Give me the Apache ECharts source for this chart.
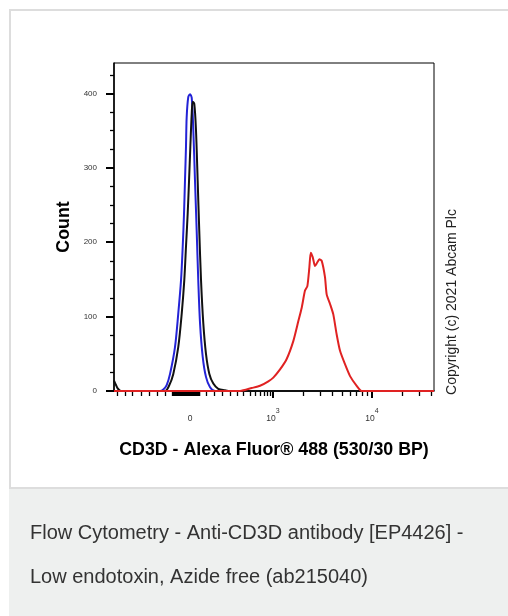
<!DOCTYPE html>
<html>
<head>
<meta charset="utf-8">
<script src="https://cdn.jsdelivr.net/npm/echarts@6/dist/echarts.min.js"></script>
<style>
html,body{margin:0;padding:0;background:#fff;}
#chart{width:508px;height:616px;}
</style>
</head>
<body>
<div id="chart"></div>
<script>
// x values are positions on the logicle display scale (in decades: 3 = 10^3, 4 = 10^4)
const X_MIN = 1.394;
const X_MAX = 4.626;

// Isotype control (blue)
const blueX = [1.394, 1.859, 1.892, 1.926, 1.960, 2.010, 2.043, 2.071, 2.088, 2.101, 2.111, 2.121, 2.128, 2.144, 2.162, 2.179, 2.195, 2.212, 2.229, 2.245, 2.263, 2.290, 2.323, 2.364, 2.414, 4.626];
const blueCount = [0, 0, 2, 8, 23, 59, 104, 149, 194, 238, 283, 328, 368, 395, 399, 394, 351, 283, 216, 149, 91, 46, 19, 5, 0, 0];

// Unlabelled control (black)
const blackX = [1.394, 1.414, 1.434, 1.465, 1.909, 1.950, 1.993, 2.043, 2.078, 2.104, 2.121, 2.138, 2.152, 2.165, 2.179, 2.189, 2.205, 2.222, 2.239, 2.255, 2.273, 2.296, 2.323, 2.357, 2.397, 2.447, 2.515, 2.566, 4.626];
const blackCount = [14, 8, 3, 0, 0, 7, 23, 59, 104, 149, 194, 238, 283, 328, 373, 389, 386, 351, 283, 216, 149, 91, 50, 23, 10, 3, 1, 0, 0];

// Anti-CD3D (red)
const redX = [1.394, 2.667, 2.785, 2.869, 2.953, 3.003, 3.071, 3.138, 3.205, 3.256, 3.290, 3.323, 3.347, 3.367, 3.381, 3.401, 3.424, 3.448, 3.468, 3.492, 3.525, 3.542, 3.576, 3.609, 3.643, 3.677, 3.727, 3.778, 3.845, 3.896, 4.626];
const redCount = [0, 0, 4, 7, 13, 18, 29, 43, 67, 94, 112, 135, 141, 166, 186, 180, 168, 173, 177, 175, 153, 130, 117, 103, 76, 54, 36, 20, 7, 0, 0];

// Axis ticks and labels
const xLabelPos = [2.162, 3, 4];
const xLabelText = ['0', '10', '10'];
const xLabelExp = ['', '3', '4'];
const xMajorTicks = [3, 4];
const xMinorTicks = [1.428, 1.505, 1.583, 1.667, 1.747, 1.828, 1.909,
  1.98, 1.99, 2.00, 2.01, 2.02, 2.03, 2.04, 2.05, 2.06, 2.07, 2.08, 2.09, 2.10, 2.11, 2.12, 2.13, 2.14, 2.15, 2.16, 2.17, 2.18, 2.19, 2.20, 2.21, 2.22, 2.23, 2.24, 2.25, 2.26,
  2.330, 2.407, 2.488, 2.566, 2.643, 2.700, 2.768, 2.825, 2.869, 2.909, 2.942, 2.970,
  3.301, 3.477, 3.602, 3.699, 3.778, 3.845, 3.903, 3.954,
  4.301, 4.477, 4.602];
const yLabels = [0, 100, 200, 300, 400];
const yMinorTicks = [25, 50, 75, 125, 150, 175, 225, 250, 275, 325, 350, 375, 425];
const Y_MAX = 441;

const xTitle = 'CD3D - Alexa Fluor® 488 (530/30 BP)';
const yTitle = 'Count';
const copyright = 'Copyright (c) 2021 Abcam Plc';
const caption = ['Flow Cytometry - Anti-CD3D antibody [EP4426] -', 'Low endotoxin, Azide free (ab215040)'];

function zip(xs, ys) { return xs.map((x, i) => [x, ys[i]]); }

const FONT = '"Liberation Sans", Arial, sans-serif';
const chart = echarts.init(document.getElementById('chart'), null, {renderer: 'canvas'});

const option = {
  animation: false,
  textStyle: {fontFamily: FONT},
  graphic: [
    {type: 'rect', z: -100, shape: {x: 10, y: 10, width: 520, height: 478}, style: {fill: '#ffffff', stroke: '#dddddd', lineWidth: 2}},
    {type: 'rect', z: -99, shape: {x: 9, y: 489, width: 510, height: 130}, style: {fill: '#eef0ef'}},
    {type: 'text', x: 30, y: 533, style: {text: caption[0], fontSize: 20, fontFamily: FONT, fill: '#333333', verticalAlign: 'middle'}},
    {type: 'text', x: 30, y: 577, style: {text: caption[1], fontSize: 20, fontFamily: FONT, fill: '#333333', verticalAlign: 'middle'}},
    {type: 'text', x: 452, y: 302, rotation: Math.PI / 2, style: {text: copyright, fontSize: 14, fontFamily: FONT, fill: '#222222', align: 'center', verticalAlign: 'middle'}}
  ],
  grid: {left: 114, top: 63, width: 320, height: 328, show: true, borderColor: '#000', borderWidth: 1, backgroundColor: 'transparent'},
  xAxis: [
    {
      type: 'value', min: X_MIN, max: X_MAX, position: 'bottom',
      axisLine: {show: true, lineStyle: {color: '#000', width: 1.5}},
      splitLine: {show: false},
      axisTick: {show: true, customValues: xMajorTicks, length: 7, lineStyle: {color: '#000', width: 2}},
      axisLabel: {
        customValues: xLabelPos, margin: 17, color: '#333',
        formatter: function (v) {
          let i = xLabelPos.findIndex(p => Math.abs(p - v) < 1e-6);
          if (i < 0) return '';
          return xLabelExp[i] ? '{n|' + xLabelText[i] + '}{s|' + xLabelExp[i] + '}' : '{n|' + xLabelText[i] + '}';
        },
        rich: {
          n: {fontSize: 8.5, lineHeight: 21, verticalAlign: 'middle', color: '#333', fontFamily: FONT},
          s: {fontSize: 7, verticalAlign: 'top', color: '#333', fontFamily: FONT}
        }
      },
      name: xTitle, nameLocation: 'middle', nameGap: 50,
      nameTextStyle: {fontSize: 17.8, fontWeight: 'bold', color: '#000', fontFamily: FONT}
    },
    {
      type: 'value', min: X_MIN, max: X_MAX, position: 'bottom', offset: 0,
      axisLine: {show: false},
      splitLine: {show: false},
      axisTick: {show: true, customValues: xMinorTicks, length: 5, lineStyle: {color: '#000', width: 1.3}},
      axisLabel: {show: false}
    }
  ],
  yAxis: [
    {
      type: 'value', min: 0, max: Y_MAX, position: 'left',
      axisLine: {show: true, lineStyle: {color: '#000', width: 1.5}},
      splitLine: {show: false},
      axisTick: {show: true, customValues: yLabels, length: 8, lineStyle: {color: '#000', width: 2}},
      axisLabel: {customValues: yLabels, margin: 17, fontSize: 8, color: '#333'},
      name: yTitle, nameLocation: 'middle', nameGap: 41,
      nameTextStyle: {fontSize: 17.8, fontWeight: 'bold', color: '#000', fontFamily: FONT}
    },
    {
      type: 'value', min: 0, max: Y_MAX, position: 'left', offset: 0,
      axisLine: {show: false},
      splitLine: {show: false},
      axisTick: {show: true, customValues: yMinorTicks, length: 4, lineStyle: {color: '#000', width: 1.3}},
      axisLabel: {show: false}
    }
  ],
  series: [
    {type: 'line', name: 'Blue', data: zip(blueX, blueCount), xAxisIndex: 0, yAxisIndex: 0, showSymbol: false, smooth: 0.3, lineStyle: {color: '#2323d6', width: 2}, z: 3},
    {type: 'line', name: 'Black', data: zip(blackX, blackCount), xAxisIndex: 0, yAxisIndex: 0, showSymbol: false, smooth: 0.3, lineStyle: {color: '#111111', width: 2}, z: 4},
    {type: 'line', name: 'Red', data: zip(redX, redCount), xAxisIndex: 0, yAxisIndex: 0, showSymbol: false, smooth: 0.2, lineStyle: {color: '#e02222', width: 2}, z: 5}
  ]
};
chart.setOption(option);
</script>
</body>
</html>
